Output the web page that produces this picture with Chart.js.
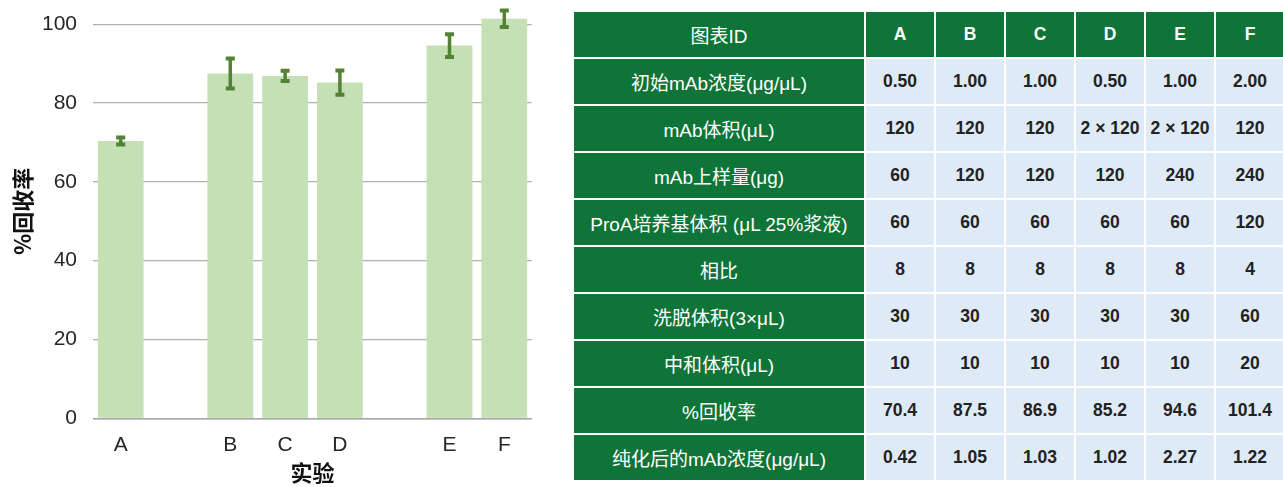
<!DOCTYPE html>
<html>
<head>
<meta charset="utf-8">
<script src="https://cdn.jsdelivr.net/npm/chart.js@4/dist/chart.umd.min.js"></script>
<style>
  html, body { margin: 0; padding: 0; background: #fff; }
  body { width: 1283px; height: 487px; position: relative; overflow: hidden;
         font-family: "Liberation Sans", "Noto Sans CJK SC", sans-serif; }
  #chartBox { position: absolute; left: 0; top: 0; width: 545px; height: 487px; }
  #params { position: absolute; left: 572px; top: 10px; width: 712px; height: 470px;
            border-collapse: collapse; table-layout: fixed; }
  #params td { border: 2px solid #fff; text-align: center; padding: 0; height: 45px; white-space: nowrap; }
  #params td.lbl { background: #0f7437; color: #fff; font-size: 19px;
                   font-family: "Liberation Sans", "Noto Sans CJK SC", sans-serif; }
  #params td.hd { background: #0f7437; color: #fff; font-weight: bold; font-size: 17.5px; }
  #params td.val { background: #deeaf6; color: #222; font-weight: bold; font-size: 17.5px; }
</style>
</head>
<body>
<div id="chartBox"><canvas id="canvas"></canvas></div>
<table id="params"></table>
<script>
'use strict';

// bar chart: gaps between groups are empty categories
const categories = ['A', '', 'B', 'C', 'D', '', 'E', 'F'];
const recovery = [70.4, null, 87.5, 86.9, 85.2, null, 94.6, 101.4];
const recoveryErr = [0.9, null, 3.8, 1.3, 3.1, null, 2.9, 2.1];
const yTicks = [0, 20, 40, 60, 80, 100];

// parameter table
const runIds = ['A', 'B', 'C', 'D', 'E', 'F'];
const rowLabels = [
  '初始mAb浓度(μg/μL)',
  'mAb体积(μL)',
  'mAb上样量(μg)',
  'ProA培养基体积 (μL 25%浆液)',
  '相比',
  '洗脱体积(3×μL)',
  '中和体积(μL)',
  '%回收率',
  '纯化后的mAb浓度(μg/μL)'
];
const startConc = ['0.50', '1.00', '1.00', '0.50', '1.00', '2.00'];
const mabVolume = ['120', '120', '120', '2 × 120', '2 × 120', '120'];
const mabLoad = ['60', '120', '120', '120', '240', '240'];
const resinVolume = ['60', '60', '60', '60', '60', '120'];
const phaseRatio = ['8', '8', '8', '8', '8', '4'];
const elutionVolume = ['30', '30', '30', '30', '30', '60'];
const neutVolume = ['10', '10', '10', '10', '10', '20'];
const recoveryText = ['70.4', '87.5', '86.9', '85.2', '94.6', '101.4'];
const finalConc = ['0.42', '1.05', '1.03', '1.02', '2.27', '1.22'];

const tableRows = [startConc, mabVolume, mabLoad, resinVolume, phaseRatio,
  elutionVolume, neutVolume, recoveryText, finalConc];

const buildTable = () => {
  const table = document.getElementById('params');
  const cols = document.createElement('colgroup');
  cols.innerHTML = '<col style="width:292px">' + runIds.map(() => '<col style="width:70px">').join('');
  table.appendChild(cols);

  let html = '<tr><td class="lbl">图表ID</td>' +
    runIds.map(id => `<td class="hd">${id}</td>`).join('') + '</tr>';
  for (let i = 0; i < rowLabels.length; i++) {
    html += `<tr><td class="lbl">${rowLabels[i]}</td>` +
      tableRows[i].map(v => `<td class="val">${v}</td>`).join('') + '</tr>';
  }
  table.insertAdjacentHTML('beforeend', html);
};

// draws +/- error bars with flat caps on top of each bar
const errorBars = {
  id: 'errorBars',
  afterDatasetsDraw(chart) {
    const ctx = chart.ctx;
    const yScale = chart.scales.y;
    const meta = chart.getDatasetMeta(0);
    ctx.save();
    ctx.strokeStyle = '#538135';
    meta.data.forEach((bar, i) => {
      const v = recovery[i];
      const e = recoveryErr[i];
      if (v == null || e == null) return;
      const top = yScale.getPixelForValue(v + e);
      const bot = yScale.getPixelForValue(v - e);
      ctx.lineWidth = 3.5;
      ctx.beginPath();
      ctx.moveTo(bar.x, top);
      ctx.lineTo(bar.x, bot);
      ctx.stroke();
      ctx.lineWidth = 4;
      ctx.beginPath();
      ctx.moveTo(bar.x - 4.5, top);
      ctx.lineTo(bar.x + 4.5, top);
      ctx.moveTo(bar.x - 4.5, bot);
      ctx.lineTo(bar.x + 4.5, bot);
      ctx.stroke();
    });
    ctx.restore();
  }
};

const axisFont = { family: '"Liberation Sans", "Noto Sans CJK SC", sans-serif', size: 21 };
const titleFont = { family: '"Noto Sans CJK SC", "Liberation Sans", sans-serif', size: 22, weight: 'bold', lineHeight: 1.1 };

// fixed axis sizes, no extra edge padding for the outer tick labels
const pinAxis = (scale, size) => {
  if (scale.isHorizontal()) scale.height = size;
  else scale.width = size;
  scale.paddingTop = 0;
  scale.paddingBottom = 0;
  scale.paddingLeft = 0;
  scale.paddingRight = 0;
};

const createChart = () => {
  new Chart(document.getElementById('canvas').getContext('2d'), {
    type: 'bar',
    data: {
      labels: categories,
      datasets: [{
        data: recovery,
        backgroundColor: '#c5e0b4',
        borderWidth: 0,
        categoryPercentage: 1,
        barPercentage: 0.835
      }]
    },
    options: {
      responsive: true,
      maintainAspectRatio: false,
      animation: false,
      layout: { padding: { top: 4.6, right: 13.3, bottom: 0, left: 0 } },
      plugins: { legend: { display: false }, tooltip: { enabled: false } },
      scales: {
        x: {
          grid: { display: false, drawTicks: false },
          border: { display: true, color: '#a6a6a6', width: 1.5 },
          ticks: { color: '#262626', font: axisFont, padding: 14, maxRotation: 0 },
          title: { display: true, text: '实验', color: '#111', font: titleFont, padding: { top: 0, bottom: 2 } },
          afterFit: scale => pinAxis(scale, 68.7)
        },
        y: {
          min: 0,
          max: 105,
          grid: { color: '#b0b0b0', lineWidth: 1.3, drawTicks: false },
          border: { display: false },
          afterBuildTicks: axis => {
            axis.ticks = yTicks.map(v => ({ value: v }));
          },
          ticks: { color: '#262626', font: axisFont, padding: 16.3 },
          title: { display: true, text: '%回收率', color: '#111', font: titleFont, padding: { top: 11, bottom: 0 } },
          afterFit: scale => pinAxis(scale, 93.3)
        }
      }
    },
    plugins: [errorBars]
  });
};

buildTable();
createChart();
</script>
</body>
</html>
